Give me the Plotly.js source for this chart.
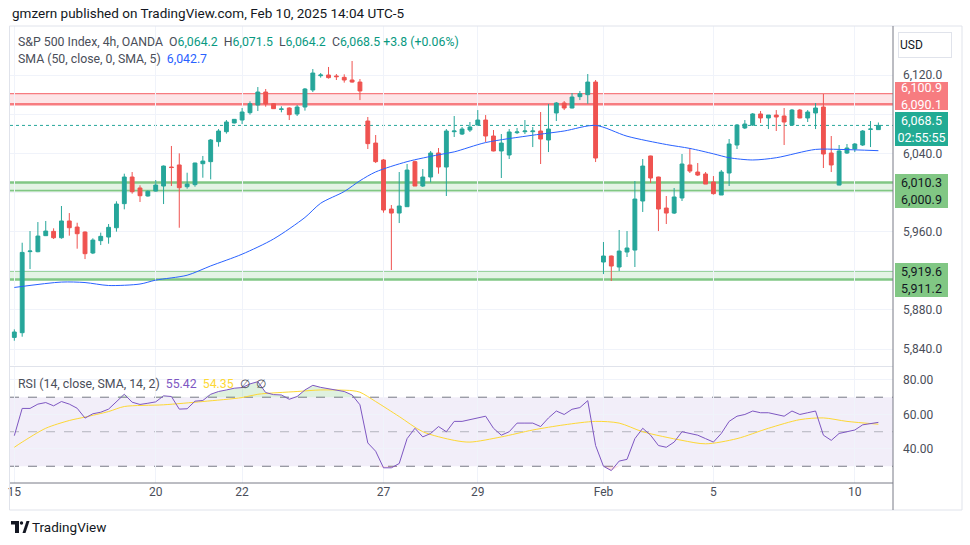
<!DOCTYPE html>
<html><head><meta charset="utf-8">
<script src="https://cdn.plot.ly/plotly-3.0.1.min.js"></script>
<style>html,body{margin:0;padding:0;background:#fff}#chart{width:970px;height:545px}</style>
</head><body><div id="chart"></div>
<script>
// ---- data (4h candles, index based) ----
const openP  = [5852.0,5856.8,5939.6,5939.5,5955.9,5960.3,5953.8,5970.9,5964.7,5959.6,5938.2,5950.8,5954.5,5964.0,5988.6,6015.8,6004.6,5996.4,6001.5,6006.6,6026.0,6028.1,6005.9,6008.0,6029.4,6031.5,6051.9,6062.1,6071.0,6074.0,6081.5,6089.3,6102.6,6090.7,6084.9,6086.3,6080.2,6087.3,6104.7,6119.3,6120.0,6119.0,6117.6,6114.9,6112.8,6073.0,6050.5,6033.2,5983.1,5979.0,5985.5,6031.5,6006.6,6015.8,6040.3,6026.0,6062.1,6059.7,6063.8,6068.9,6074.0,6057.7,6042.4,6038.3,6061.1,6062.1,6062.1,6062.8,6053.6,6081.2,6091.4,6086.3,6097.9,6099.9,6112.8,5929.0,5935.1,5923.9,5939.2,5941.2,5991.3,6037.3,6015.8,5984.1,5979.0,5994.4,6028.1,6020.9,6018.9,6010.7,5997.4,6019.9,6048.5,6065.9,6068.9,6080.2,6076.1,6079.1,6078.1,6068.9,6084.2,6076.1,6081.2,6087.3,6040.3,6007.6,6040.3,6044.4,6048.5,6064.5,6064.2];
const highP  = [5860.2,5948.7,5960.6,5969.8,5970.9,5963.4,5986.2,5979.0,5969.1,5960.3,5953.2,5959.0,5967.8,5991.0,6019.2,6020.9,6007.3,6002.2,6012.7,6027.6,6047.5,6040.0,6020.2,6030.4,6037.3,6054.6,6064.8,6074.0,6075.0,6086.3,6093.1,6107.7,6105.7,6091.4,6088.0,6087.0,6089.4,6106.7,6126.1,6122.0,6128.2,6121.0,6120.7,6134.3,6115.9,6077.1,6058.7,6034.2,5987.2,6020.9,6029.1,6032.5,6024.0,6042.4,6045.4,6064.8,6078.1,6066.9,6072.0,6084.2,6079.1,6063.8,6059.7,6064.8,6065.9,6074.0,6066.9,6082.2,6090.4,6092.4,6093.4,6101.6,6103.7,6121.0,6114.9,5949.4,5935.5,5961.7,5960.6,6011.7,6034.2,6037.6,6016.1,5996.4,6004.6,6039.3,6045.4,6030.1,6020.9,6016.8,6023.0,6054.6,6069.9,6074.0,6081.2,6083.2,6079.1,6084.2,6086.3,6085.3,6085.3,6084.2,6091.4,6100.6,6057.7,6048.5,6049.5,6050.5,6063.8,6073.0,6071.5];
const lowP   = [5848.6,5852.7,5921.8,5939.0,5955.5,5952.5,5952.8,5955.9,5942.6,5932.0,5937.1,5946.3,5947.7,5960.0,5982.8,5998.8,5990.3,5995.8,6000.8,5988.2,6006.6,5964.0,6003.9,6005.9,6015.1,6013.4,6046.8,6060.1,6070.6,6069.9,6079.5,6083.2,6087.6,6085.3,6081.9,6074.0,6078.1,6083.6,6102.6,6117.3,6116.3,6114.9,6112.2,6112.2,6094.4,6044.4,6030.1,5979.4,5920.8,5968.8,5985.2,6006.6,6005.6,6010.4,6019.2,5996.4,6056.7,6058.7,6061.8,6068.6,6051.6,6042.0,6014.8,6034.2,6059.7,6059.7,6046.4,6029.1,6041.3,6073.0,6084.2,6085.9,6094.4,6090.7,6031.1,5916.7,5909.6,5919.8,5934.1,5923.9,5980.1,6009.7,5960.6,5967.8,5978.0,5991.3,6019.9,6016.8,6008.6,5997.8,5997.4,6006.6,6044.4,6064.8,6067.9,6071.0,6064.8,6062.8,6048.5,6068.6,6075.8,6072.0,6064.8,6025.0,6020.9,6007.3,6039.3,6041.3,6047.5,6046.4,6064.2];
const closeP = [5857.5,5938.8,5940.2,5955.5,5960.6,5953.8,5970.9,5964.0,5957.9,5937.5,5951.4,5955.2,5964.4,5988.2,6015.8,6000.8,5996.7,6001.2,6007.6,6027.0,6025.5,6004.9,6008.6,6030.1,6032.1,6053.6,6062.8,6072.0,6074.7,6082.2,6090.7,6102.6,6090.4,6085.6,6085.3,6079.5,6087.3,6105.7,6122.0,6120.0,6117.3,6118.3,6114.9,6112.8,6103.7,6049.9,6031.5,5982.1,5979.0,5986.2,6022.9,6006.6,6015.8,6040.3,6026.0,6062.8,6062.8,6064.8,6066.9,6074.0,6057.7,6042.4,6050.5,6061.8,6061.8,6062.8,6062.8,6054.6,6064.8,6091.4,6086.3,6097.5,6100.9,6112.8,6035.2,5935.1,5924.9,5940.2,5943.3,5993.3,6027.0,6014.8,5983.1,5979.0,5995.4,6029.1,6021.9,6017.8,6008.6,5998.8,6020.9,6049.5,6068.9,6069.9,6080.2,6076.1,6079.1,6077.1,6072.0,6084.2,6076.1,6082.2,6086.3,6039.3,6028.1,6042.4,6045.4,6049.5,6062.8,6064.8,6068.5];

const tickIdx  = [0,18,29,47,59,75,89,107];
const tickText = ["15","20","22","27","29","Feb","5","10"];

const smaIdx = [0,6,9,12,16,18,22,25,29,33,37,39,42,44,46,50,54,56,60,66,70,74,78,83,86,89,91,94,97,102,105,110];
const smaVal = [5903,5908.5,5908,5905,5906.5,5910.5,5915.5,5925,5937,5952.5,5974.5,5989,6001,6012,6021,6031.5,6038.5,6041.5,6051,6058.5,6062.8,6068.5,6057.5,6049,6045,6039.5,6035.5,6033.2,6035.5,6044,6044,6042.7];

const rsiVal = [47.7,63.5,63.5,66,66.9,65,67.5,66,63.6,57.9,60.4,61.3,63.1,67.5,71.7,67.1,65.8,66.5,67.3,70.8,70.4,63.1,63.3,67.7,68.1,71.7,73.3,74.2,75.2,75.6,77.7,79,72.7,71.5,71.3,68.8,70.4,74.2,76.9,75.7,75,74.2,73.3,71.3,65.6,43.5,38.7,29.1,29.1,31.6,
  46,52,47,49,53,50,56,56,57,58,59,52,48,50,55,55,55,53,58,62,60,63,64,68,42,30,27.5,33,34,46,52,48,42,41,44,50,49,48,46,44,49,56,59,60,62,61,61,60,59,62,60,61,62,48,45,49,50,51,54,54.5,55.42];
const rsiMaIdx = [0,1,4,7,9,12,14,19,24,29,31,36,39,43,44,46,49,52,56,58,62,66,70,74,77,80,85,88,92,96,100,103,106,110];
const rsiMaVal = [41,44,52,56.5,58.5,61.7,64.6,65.6,67.5,69.8,71.7,73.3,74.2,73.8,72.9,67.5,58.8,50,45,44,47,51,54,56,55,50,45,43,46,52,57,58,56,54.35];

const resistance = [6090.1, 6100.9];
const support1   = [6000.9, 6010.3];
const support2   = [5911.2, 5919.6];
const lastPrice  = 6068.5;
const smaLast = 6042.7, rsiLast = 55.42, rsiMaLast = 54.35;
const priceTicks = [5840,5880,5920,5960,6000,6040,6080,6120];
const hiddenTicks = [5920,6000,6080]; // covered by the level labels on the price scale
const rsiTicks = [40,60,80];

// ---- helpers ----
const L=10, R=893, T=26, B=483;
const px2x = p => (p-L)/(R-L);
const px2y = p => (B-p)/(B-T);
const fmt = v => v.toLocaleString('en-US',{minimumFractionDigits:1,maximumFractionDigits:1});
const idx = openP.map((_,i)=>i);
const UP='#26a69a', DN='#ef5350';

const traces = [
  {type:'candlestick', x:idx, open:openP, high:highP, low:lowP, close:closeP, xaxis:'x', yaxis:'y',
   increasing:{line:{color:UP,width:1}, fillcolor:UP}, decreasing:{line:{color:DN,width:1}, fillcolor:DN},
   whiskerwidth:0, hoverinfo:'skip', showlegend:false},
  {type:'scatter', mode:'lines', x:smaIdx, y:smaVal, line:{color:'#2962ff',width:1,shape:'spline',smoothing:0.8}, xaxis:'x', yaxis:'y', hoverinfo:'skip'},
  {type:'scatter', mode:'lines', x:idx, y:idx.map(()=>70), line:{width:0,color:'rgba(0,0,0,0)'}, xaxis:'x', yaxis:'y2', hoverinfo:'skip'},
  {type:'scatter', mode:'lines', x:idx, y:rsiVal.map(v=>Math.max(v,70)), line:{width:0,color:'rgba(0,0,0,0)'}, fill:'tonexty', fillcolor:'rgba(76,175,80,0.18)', xaxis:'x', yaxis:'y2', hoverinfo:'skip'},
  {type:'scatter', mode:'lines', x:idx, y:idx.map(()=>30), line:{width:0,color:'rgba(0,0,0,0)'}, xaxis:'x', yaxis:'y2', hoverinfo:'skip'},
  {type:'scatter', mode:'lines', x:idx, y:rsiVal.map(v=>Math.min(v,30)), line:{width:0,color:'rgba(0,0,0,0)'}, fill:'tonexty', fillcolor:'rgba(242,54,69,0.15)', xaxis:'x', yaxis:'y2', hoverinfo:'skip'},
  {type:'scatter', mode:'lines', x:rsiMaIdx, y:rsiMaVal, line:{color:'#fdd835',width:1,shape:'spline',smoothing:0.8}, xaxis:'x', yaxis:'y2', hoverinfo:'skip'},
  {type:'scatter', mode:'lines', x:idx, y:rsiVal, line:{color:'#7e57c2',width:1}, xaxis:'x', yaxis:'y2', hoverinfo:'skip'}
];

const hline = (y, color, width, dash, yref) => ({type:'line', xref:'paper', x0:0, x1:1, yref:yref||'y', y0:y, y1:y, line:{color, width, dash:dash||'solid'}, layer:'below'});
const shapes = [
  {type:'rect', xref:'paper', x0:0, x1:1, yref:'y', y0:resistance[0], y1:resistance[1], fillcolor:'rgba(242,54,69,0.13)', line:{width:0}, layer:'below'},
  hline(resistance[1], '#f77c80', 1.2),
  hline(resistance[0], '#f77c80', 2.5),
  {type:'rect', xref:'paper', x0:0, x1:1, yref:'y', y0:support1[0]+1, y1:support1[1], fillcolor:'rgba(76,175,80,0.15)', line:{width:0}, layer:'below'},
  hline(support1[1], '#81c784', 2.5),
  hline(support1[0]+1.2, '#81c784', 1.2),
  hline(support1[0]-0.6, '#81c784', 1.2),
  {type:'rect', xref:'paper', x0:0, x1:1, yref:'y', y0:support2[0], y1:support2[1], fillcolor:'rgba(76,175,80,0.15)', line:{width:0}, layer:'below'},
  hline(support2[1], '#81c784', 1.2),
  hline(support2[0], '#81c784', 2.5),
  hline(lastPrice, '#26a69a', 1, 'dot'),
  {type:'rect', xref:'paper', x0:0, x1:1, yref:'y2', y0:30, y1:70, fillcolor:'rgba(126,87,194,0.1)', line:{width:0}, layer:'below'},
  hline(70, '#787b86', 1, 'dash', 'y2'),
  hline(50, 'rgba(120,123,134,0.5)', 1, 'dash', 'y2'),
  hline(30, '#787b86', 1, 'dash', 'y2'),
  {type:'rect', xref:'paper', yref:'paper', x0:px2x(9.5), x1:px2x(962), y0:px2y(510), y1:px2y(26), line:{color:'#e0e3eb',width:1}, layer:'above'},
  {type:'line', xref:'paper', yref:'paper', x0:0, x1:1, y0:px2y(366.5), y1:px2y(366.5), line:{color:'#e0e3eb',width:1}},
  {type:'line', xref:'paper', yref:'paper', x0:0, x1:1, y0:0, y1:0, line:{color:'#787b86',width:1}},
  {type:'line', xref:'paper', yref:'paper', x0:1, x1:1, y0:px2y(510), y1:px2y(26), line:{color:'#787b86',width:1}},
  {type:'rect', xref:'paper', yref:'paper', x0:px2x(11), x1:px2x(19), y0:px2y(524.5), y1:px2y(521), fillcolor:'#131722', line:{width:0}},
  {type:'rect', xref:'paper', yref:'paper', x0:px2x(15), x1:px2x(19), y0:px2y(533), y1:px2y(521), fillcolor:'#131722', line:{width:0}},
  {type:'circle', xref:'paper', yref:'paper', x0:px2x(19.8), x1:px2x(23.2), y0:px2y(524.7), y1:px2y(521.3), fillcolor:'#131722', line:{width:0}},
  {type:'path', xref:'paper', yref:'paper', path:`M ${px2x(22.5)} ${px2y(533)} L ${px2x(26.5)} ${px2y(521)} L ${px2x(29.5)} ${px2y(521)} L ${px2x(25.5)} ${px2y(533)} Z`, fillcolor:'#131722', line:{width:0}}
];

const gray='#4a4e59', teal='#089981';
const box = (txt, y, yshift, bg, fc, h) => ({xref:'paper', x:px2x(895), xanchor:'left', yref:'y', y, yanchor:'middle', yshift,
   text:txt, showarrow:false, bgcolor:bg, bordercolor:bg, borderwidth:0, borderpad:0, width:53, height:h, align:'center',
   font:{family:'Roboto, sans-serif', size:12.5, color:fc}});
const annotations = [
  {xref:'paper', yref:'paper', x:px2x(10), y:px2y(13), xanchor:'left', yanchor:'middle', showarrow:false,
   text:'gmzern published on TradingView.com, Feb 10, 2025 14:04 UTC-5', font:{family:'Roboto, sans-serif', size:13.5, color:'#131722'}},
  {xref:'paper', yref:'paper', x:px2x(16), y:px2y(42), xanchor:'left', yanchor:'middle', showarrow:false,
   text:`S&amp;P 500 Index, 4h, OANDA  O<span style="color:${teal}">${fmt(openP[110])}</span>  H<span style="color:${teal}">${fmt(highP[110])}</span>  L<span style="color:${teal}">${fmt(lowP[110])}</span>  C<span style="color:${teal}">${fmt(closeP[110])}</span> <span style="color:${teal}">+3.8 (+0.06%)</span>`,
   font:{family:'Roboto, sans-serif', size:12.3, color:gray}},
  {xref:'paper', yref:'paper', x:px2x(16), y:px2y(59), xanchor:'left', yanchor:'middle', showarrow:false,
   text:`SMA (50, close, 0, SMA, 5)  <span style="color:#2962ff">${fmt(smaLast)}</span>`,
   font:{family:'Roboto, sans-serif', size:12.3, color:gray}},
  {xref:'paper', yref:'paper', x:px2x(16), y:px2y(384), xanchor:'left', yanchor:'middle', showarrow:false,
   text:`RSI (14, close, SMA, 14, 2)  <span style="color:#7e57c2">${rsiLast.toFixed(2)}</span>  <span style="color:#fdd835">${rsiMaLast.toFixed(2)}</span>  ∅  ∅`,
   font:{family:'Roboto, sans-serif', size:12.3, color:gray}},
  {xref:'paper', yref:'paper', x:px2x(898), y:px2y(44.5), xanchor:'left', yanchor:'middle', showarrow:false,
   text:'USD', width:50, height:22, align:'left', bordercolor:'#e0e3eb', borderwidth:1, borderpad:1,
   font:{family:'Roboto, sans-serif', size:12, color:'#131722'}},
  box(`${fmt(resistance[1])}<br>${fmt(resistance[0])}`, resistance[1], -2.2, '#f77c80', '#ffffff', 28),
  box(`${fmt(lastPrice)}<br>02:55:55`, lastPrice, -3.8, '#22ab94', '#ffffff', 34),
  box(`${fmt(support1[1])}<br>${fmt(support1[0])}`, support1[1], -8.6, '#81c784', '#131722', 34),
  box(`${fmt(support2[1])}<br>${fmt(support2[0])}`, support2[1], -8.6, '#81c784', '#131722', 34),
  {xref:'paper', yref:'paper', x:px2x(30), y:px2y(527), xanchor:'left', yanchor:'middle', showarrow:false,
   text:'TradingView', font:{family:'Roboto, sans-serif', size:13.5, color:'#131722'}}
];

const axFont = {family:'Roboto, sans-serif', size:12, color:'#4a4e59'};
const layout = {
  width:970, height:545, margin:{l:L, r:970-R, t:T, b:545-B}, paper_bgcolor:'#fff', plot_bgcolor:'#fff',
  showlegend:false, dragmode:false, hovermode:false,
  xaxis:{anchor:'y2', range:[-0.55,111.86], tickvals:tickIdx, ticktext:tickText, showgrid:true, gridcolor:'#f0f3fa',
    zeroline:false, showline:false, ticks:'', tickfont:axFont, rangeslider:{visible:false}, fixedrange:true},
  yaxis:{domain:[(B-365)/(B-T),1], range:[5823.8,6170.05], side:'right', tickvals:priceTicks,
    ticktext:priceTicks.map(v=>hiddenTicks.includes(v)?'':fmt(v)),
    gridcolor:'#f0f3fa', zeroline:false, showline:false, ticks:'', ticklabelstandoff:9, tickfont:axFont, fixedrange:true},
  yaxis2:{domain:[0,(B-367)/(B-T)], range:[20.3,87.5], side:'right', tickvals:rsiTicks, ticktext:rsiTicks.map(v=>v.toFixed(2)),
    gridcolor:'#f0f3fa', zeroline:false, showline:false, ticks:'', ticklabelstandoff:9, tickfont:axFont, fixedrange:true},
  shapes, annotations
};
Plotly.newPlot('chart', traces, layout, {displayModeBar:false, staticPlot:true});
</script></body></html>
